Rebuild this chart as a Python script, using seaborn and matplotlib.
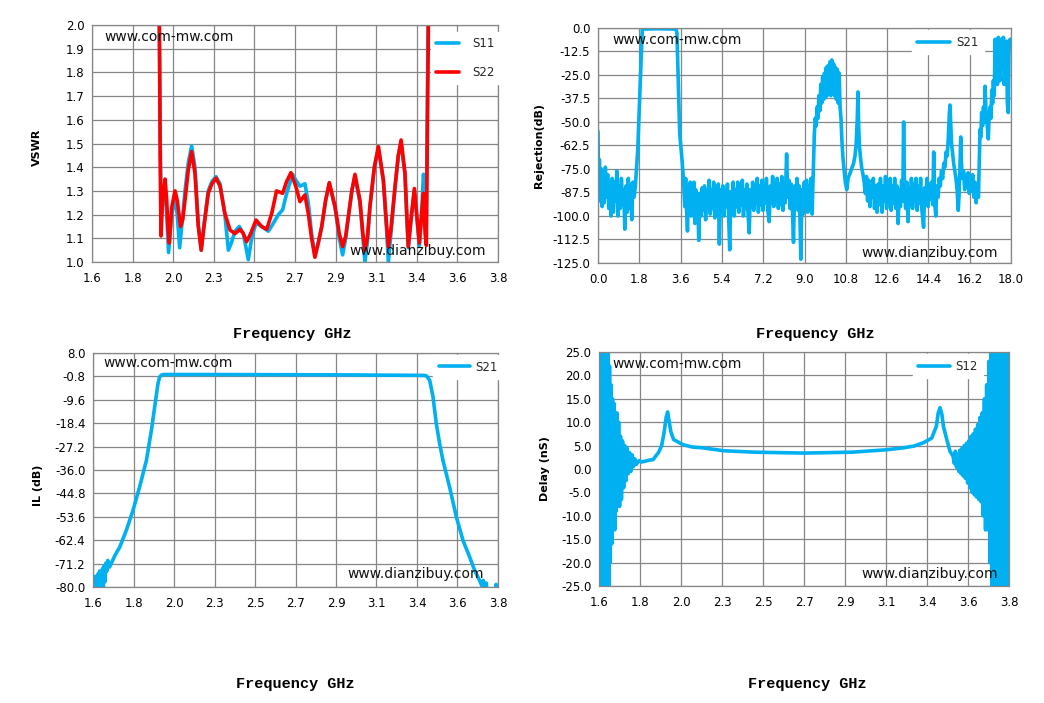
import numpy as np
import seaborn as sns
import matplotlib.pyplot as plt

# ---------------- VSWR (top left) ----------------
s11_freq = [1.962, 1.966, 1.970, 1.976, 1.987, 1.996, 2.005, 2.015, 2.032, 2.050,
            2.062, 2.075, 2.090, 2.104, 2.122, 2.140, 2.158, 2.176, 2.192, 2.207,
            2.230, 2.250, 2.272, 2.294, 2.320, 2.339, 2.355, 2.375, 2.398, 2.420,
            2.447, 2.465, 2.489, 2.519, 2.556, 2.580, 2.610, 2.633, 2.655, 2.687,
            2.705, 2.727, 2.754, 2.772, 2.790, 2.808, 2.826, 2.845, 2.866, 2.886,
            2.917, 2.940, 2.958, 2.975, 2.989, 3.008, 3.025, 3.052, 3.068, 3.079,
            3.092, 3.106, 3.130, 3.152, 3.179, 3.195, 3.206, 3.220, 3.242, 3.260,
            3.275, 3.296, 3.306, 3.314, 3.332, 3.347, 3.359, 3.374, 3.386, 3.396,
            3.405, 3.412, 3.420, 3.426]
s11_vswr = [2.30, 1.90, 1.50, 1.20, 1.28, 1.30, 1.20, 1.04, 1.20, 1.27,
            1.20, 1.06, 1.18, 1.30, 1.42, 1.49, 1.40, 1.16, 1.05, 1.16,
            1.30, 1.34, 1.36, 1.33, 1.20, 1.05, 1.08, 1.13, 1.15, 1.12,
            1.01, 1.10, 1.165, 1.15, 1.13, 1.16, 1.20, 1.22, 1.29, 1.37,
            1.345, 1.32, 1.33, 1.25, 1.12, 1.03, 1.08, 1.15, 1.26, 1.33,
            1.23, 1.10, 1.03, 1.10, 1.19, 1.30, 1.36, 1.25, 1.10, 1.00,
            1.08, 1.23, 1.40, 1.48, 1.34, 1.15, 1.00, 1.12, 1.31, 1.45,
            1.50, 1.37, 1.18, 1.06, 1.20, 1.30, 1.20, 1.07, 1.20, 1.37,
            1.30, 1.20, 1.93, 2.40]

s22_freq = [1.962, 1.966, 1.970, 1.974, 1.980, 1.987, 1.996, 2.005, 2.012, 2.019,
            2.032, 2.050, 2.062, 2.080, 2.092, 2.104, 2.122, 2.140, 2.158, 2.176,
            2.192, 2.207, 2.230, 2.250, 2.272, 2.294, 2.320, 2.348, 2.375, 2.402,
            2.420, 2.438, 2.460, 2.489, 2.519, 2.547, 2.574, 2.600, 2.633, 2.655,
            2.678, 2.705, 2.727, 2.754, 2.772, 2.790, 2.808, 2.826, 2.845, 2.866,
            2.886, 2.917, 2.940, 2.958, 2.975, 2.989, 3.008, 3.025, 3.052, 3.068,
            3.079, 3.092, 3.106, 3.130, 3.152, 3.179, 3.195, 3.206, 3.220, 3.242,
            3.260, 3.275, 3.296, 3.306, 3.314, 3.332, 3.347, 3.359, 3.374, 3.386,
            3.396, 3.405, 3.412, 3.417, 3.423, 3.430]
s22_vswr = [2.30, 1.90, 1.40, 1.11, 1.22, 1.30, 1.35, 1.26, 1.14, 1.08,
            1.23, 1.30, 1.26, 1.15, 1.18, 1.26, 1.39, 1.466, 1.375, 1.15,
            1.05, 1.15, 1.29, 1.33, 1.354, 1.32, 1.205, 1.135, 1.12, 1.138,
            1.12, 1.086, 1.12, 1.177, 1.15, 1.138, 1.205, 1.30, 1.29, 1.34,
            1.377, 1.318, 1.255, 1.283, 1.205, 1.10, 1.02, 1.08, 1.15, 1.26,
            1.335, 1.234, 1.12, 1.065, 1.11, 1.19, 1.30, 1.37, 1.26, 1.12,
            1.05, 1.10, 1.234, 1.40, 1.487, 1.346, 1.17, 1.065, 1.14, 1.318,
            1.45, 1.515, 1.375, 1.20, 1.065, 1.205, 1.31, 1.205, 1.08, 1.205,
            1.29, 1.12, 1.07, 1.54, 2.00, 2.60]

# ---------------- Rejection (top right) ----------------
rej_freq = [0.00, 0.03, 0.06, 0.10, 0.14, 0.18, 0.22, 0.27, 0.32, 0.37,
            0.42, 0.47, 0.52, 0.57, 0.62, 0.67, 0.72, 0.77, 0.82, 0.87,
            0.92, 0.97, 1.02, 1.07, 1.12, 1.17, 1.22, 1.27, 1.32, 1.37,
            1.42, 1.47, 1.52, 1.57, 1.63, 1.73, 1.80, 1.87, 1.93, 2.60,
            3.40, 3.44, 3.50, 3.56, 3.66, 3.73,
            3.78, 3.82, 3.86, 3.90, 3.94, 3.98, 4.02, 4.06, 4.10, 4.14,
            4.18, 4.22, 4.26, 4.30, 4.34, 4.39, 4.44, 4.49, 4.54, 4.59,
            4.64, 4.69, 4.74, 4.79, 4.84, 4.89, 4.94, 4.99, 5.04, 5.09,
            5.14, 5.19, 5.24, 5.29, 5.34, 5.39, 5.44, 5.49, 5.54, 5.59,
            5.64, 5.69, 5.74, 5.79, 5.84, 5.89, 5.94, 5.99, 6.04, 6.09,
            6.14, 6.19, 6.24, 6.29, 6.34, 6.39, 6.44, 6.49, 6.54, 6.59,
            6.64, 6.69, 6.74, 6.79, 6.84, 6.89, 6.94, 6.99, 7.04, 7.09,
            7.14, 7.19, 7.24, 7.29, 7.34, 7.39, 7.46, 7.51, 7.56, 7.61,
            7.66, 7.71, 7.76, 7.81, 7.86, 7.91, 7.96, 8.01, 8.06, 8.11,
            8.16, 8.22, 8.27, 8.32, 8.37, 8.42, 8.47, 8.52, 8.57, 8.62,
            8.67, 8.72, 8.77, 8.84, 8.89, 8.94, 8.99, 9.04, 9.09, 9.14,
            9.19, 9.24, 9.29, 9.33, 9.37,
            9.40, 9.43, 9.47, 9.51, 9.55, 9.59, 9.63, 9.67, 9.71, 9.75,
            9.79, 9.83, 9.87, 9.91, 9.95, 9.99, 10.03, 10.07, 10.11, 10.15,
            10.19, 10.23, 10.27, 10.31, 10.35, 10.39, 10.43, 10.47, 10.51, 10.55,
            10.59, 10.63, 10.67, 10.72, 10.78, 10.84, 10.90, 10.96, 11.02, 11.08,
            11.14, 11.20, 11.25, 11.30, 11.33, 11.36, 11.40, 11.45, 11.50, 11.55,
            11.60, 11.65, 11.70, 11.75, 11.80, 11.85, 11.90, 11.95, 12.00, 12.05,
            12.10, 12.16, 12.21, 12.26, 12.31, 12.38, 12.43, 12.48, 12.53, 12.58,
            12.63, 12.68, 12.73, 12.78, 12.83, 12.88, 12.93, 12.98, 13.03, 13.08,
            13.13, 13.18, 13.23, 13.28, 13.32, 13.36, 13.41, 13.46, 13.51, 13.56,
            13.61, 13.66, 13.71, 13.76, 13.81, 13.86, 13.91, 13.96, 14.01, 14.06,
            14.11, 14.19, 14.24, 14.29, 14.34, 14.39, 14.44, 14.49, 14.54, 14.59,
            14.63, 14.67, 14.72, 14.77, 14.82, 14.87,
            14.92, 14.97, 15.02, 15.07, 15.12, 15.17, 15.22, 15.27, 15.31, 15.34,
            15.37, 15.41, 15.45, 15.50, 15.55, 15.60, 15.65, 15.70, 15.74, 15.78,
            15.81, 15.84, 15.88, 15.93, 15.98, 16.03, 16.08, 16.13, 16.18, 16.23,
            16.28, 16.33, 16.38, 16.43, 16.48, 16.53, 16.58, 16.62, 16.65, 16.69,
            16.72, 16.76, 16.80, 16.84, 16.87, 16.91, 16.94, 16.98, 17.01, 17.05,
            17.09, 17.13, 17.16, 17.20, 17.23, 17.27, 17.31, 17.34, 17.38, 17.41,
            17.45, 17.48, 17.52, 17.56, 17.60, 17.63, 17.67, 17.70, 17.74, 17.77,
            17.81, 17.84, 17.88, 17.91, 17.96, 18.00]
rej_db = [-55, -88, -70, -92, -75, -95, -78, -93, -74, -90,
          -78, -96, -82, -100, -80, -98, -82, -92, -76, -100,
          -84, -96, -80, -94, -86, -107, -84, -98, -80, -96,
          -83, -102, -82, -90, -84, -65, -43, -20, -0.6, -0.4,
          -0.6, -2.7, -29, -56, -70, -81,
          -95, -80, -96, -108, -84, -98, -82, -100, -84, -96,
          -82, -104, -86, -98, -88, -113, -88, -100, -85, -97,
          -84, -102, -86, -95, -81, -99, -86, -96, -82, -101,
          -85, -97, -83, -115, -86, -98, -84, -100, -86, -95,
          -83, -99, -118, -87, -97, -82, -100, -86, -95, -82,
          -98, -85, -94, -81, -100, -86, -96, -83, -99, -109,
          -86, -95, -82, -97, -84, -93, -80, -98, -84, -94,
          -81, -97, -83, -93, -80, -96, -103, -84, -93, -79,
          -95, -82, -92, -80, -96, -83, -94, -79, -97, -84,
          -93, -67, -90, -81, -96, -83, -95, -114, -84, -96,
          -80, -97, -84, -123, -86, -99, -82, -95, -81, -98,
          -84, -93, -80, -99, -82,
          -70, -56, -48, -52, -42, -48, -36, -44, -30, -40,
          -26, -38, -24, -37, -21, -36, -20, -35, -18, -36,
          -17, -35, -19, -36, -21, -38, -22, -40, -24, -42,
          -48, -60, -68, -75, -82, -86, -80, -78, -76, -74,
          -72, -68, -62, -48, -34, -52, -64, -70, -75, -78,
          -82, -88, -79, -92, -81, -95, -82, -90, -80, -96,
          -84, -98, -83, -94, -80, -98, -84, -92, -79, -96,
          -83, -91, -80, -97, -84, -93, -80, -96, -84, -104,
          -86, -95, -81, -92, -50, -88, -96, -82, -103, -85,
          -94, -80, -96, -83, -92, -80, -97, -84, -93, -80,
          -96, -106, -85, -93, -80, -95, -83, -91, -82, -94,
          -66, -92, -100, -84, -90, -80,
          -84, -76, -80, -72, -74, -66, -68, -58, -46, -41,
          -50, -62, -66, -72, -76, -80, -86, -97, -88, -70,
          -58, -72, -80, -76, -86, -78, -84, -77, -88, -80,
          -86, -78, -90, -82, -93, -84, -90, -70, -54, -58,
          -45, -52, -42, -50, -31, -45, -47, -55, -59, -46,
          -42, -48, -33, -40, -28, -36, -6, -20, -10, -30,
          -5, -14, -28, -8, -6, -16, -5, -30, -22, -10,
          -7, -40, -45, -12, -6, -8]

# ---------------- Insertion loss (bottom left) ----------------
il_freq = [1.600, 1.604, 1.608, 1.612, 1.616, 1.620, 1.624, 1.628, 1.632, 1.636,
           1.640, 1.644, 1.648, 1.652, 1.656, 1.660, 1.665, 1.670, 1.675, 1.680,
           1.690, 1.720, 1.745, 1.781, 1.817, 1.853, 1.890, 1.917, 1.935, 1.953,
           1.962, 1.972, 1.985, 2.200, 2.500, 2.800, 3.000, 3.200, 3.350, 3.400,
           3.411, 3.429, 3.447, 3.465, 3.483, 3.501, 3.537, 3.574, 3.610, 3.646,
           3.673, 3.700, 3.712, 3.720, 3.728, 3.736, 3.744, 3.760, 3.787, 3.790,
           3.793]
il_db = [-82, -77, -84, -76, -83, -78, -85, -75, -82, -74,
         -81, -76, -83, -73, -80, -72, -78, -71, -74, -70,
         -72.5, -68, -65, -58.7, -51.2, -42.4, -32.4, -21.1, -12.3, -3.5,
         -1.0, -0.3, -0.1, -0.1, -0.15, -0.2, -0.25, -0.35, -0.4, -0.45,
         -0.6, -2.3, -8.5, -18.6, -26.1, -32.4, -42.4, -53.7, -62.5, -68.7,
         -73.7, -77.5, -79.5, -77.5, -82, -78.5, -84, -90, -90, -79,
         -90]

# ---------------- Group delay (bottom right) ----------------
dly_freq = [1.600, 1.604, 1.608, 1.612, 1.616, 1.620, 1.624, 1.628, 1.632, 1.636,
            1.640, 1.644, 1.648, 1.652, 1.656, 1.660, 1.664, 1.668, 1.672, 1.676,
            1.680, 1.684, 1.688, 1.692, 1.696, 1.700, 1.705, 1.710, 1.715, 1.720,
            1.726, 1.732, 1.738, 1.744, 1.750, 1.757, 1.764, 1.771, 1.778, 1.785,
            1.792, 1.800, 1.815, 1.830, 1.850, 1.870, 1.890, 1.905, 1.920, 1.936,
            1.950, 1.960, 1.968, 1.975, 1.985, 2.000, 2.050, 2.100, 2.160, 2.270,
            2.430, 2.700, 2.960, 3.140, 3.230, 3.290, 3.340, 3.385, 3.410, 3.420,
            3.430, 3.440, 3.448, 3.466, 3.483, 3.500,
            3.506, 3.512, 3.518, 3.524, 3.530, 3.536, 3.542, 3.548, 3.554, 3.560,
            3.566, 3.572, 3.578, 3.584, 3.590, 3.596, 3.602, 3.608, 3.614, 3.620,
            3.626, 3.632, 3.638, 3.644, 3.650, 3.656, 3.662, 3.668, 3.674, 3.680,
            3.686, 3.692, 3.698, 3.703, 3.708, 3.713, 3.718, 3.723, 3.728, 3.733,
            3.738, 3.743, 3.748, 3.753, 3.758, 3.763, 3.768, 3.773, 3.778, 3.783,
            3.788, 3.793, 3.798]
dly_ns = [28, -28, 30, -30, 28, -29, 30, -27, 29, -30,
          27, -28, 26, -26, 22, -20, 18, -16, 15, -12,
          14, -13, 11, -9, 12, -6, 10, -8, 7, -6.5,
          6, -4, 5, -2.5, 4.5, -1, 3.5, -0.5, 3, 0.5,
          2.2, 1.0, 1.8, 1.5, 1.7, 1.9, 2.0, 2.8, 3.6, 5.0,
          8.0, 11.0, 12.2, 10.5, 8.0, 6.3, 5.2, 4.7, 4.5, 3.9,
          3.6, 3.4, 3.6, 4.1, 4.5, 4.9, 5.6, 6.6, 9.1, 12.0,
          13.1, 11.6, 9.1, 6.3, 3.8, 2.7,
          1.2, 3.8, 0.4, 3.2, -0.5, 4.0, -1.0, 4.5, -1.5, 5.0,
          -2.0, 5.5, -3.0, 6.0, -4.0, 7.0, -5.0, 7.5, -5.5, 8.5,
          -6.0, 9.5, -6.5, 11, -7, 12, -10, 15, -13, 18,
          -13, 23, -20, 28, -30, 30, -30, 30, -30, 30,
          -30, 30, -30, 30, -30, 30, -30, 30, -30, 30,
          -30, 30, -30]

# axis ticks (Excel style: 10 equal divisions, labels rounded to one decimal)
band_ticks = np.linspace(1.6, 3.8, 11)
rej_xticks = np.linspace(0, 18, 11)
vswr_yticks = np.linspace(1.0, 2.0, 11)
rej_yticks = np.linspace(-125, 0, 11)
il_yticks = np.linspace(-80, 8, 11)
dly_yticks = np.linspace(-25, 25, 11)

BLUE = '#00B0F0'
RED = '#FF0000'
GRID = '#868686'
LW = 2.6

sns.set_theme(style="white")
plt.rcParams['font.family'] = ['DejaVu Sans']

fig = plt.figure(figsize=(10.44, 7.03), dpi=100)
ax_vswr = fig.add_axes([0.0881, 0.6273, 0.3889, 0.3371])
ax_rej = fig.add_axes([0.5728, 0.6259, 0.3956, 0.3343])
ax_il = fig.add_axes([0.0891, 0.1650, 0.3879, 0.3329])
ax_dly = fig.add_axes([0.5738, 0.1664, 0.3927, 0.3329])


def style_axes(ax, xticks, yticks, ylabel, ylab_xy, xlab_xy):
    ax.set_xlim(xticks[0], xticks[-1])
    ax.set_ylim(yticks[0], yticks[-1])
    ax.set_xticks(xticks)
    ax.set_xticklabels([f'{t:.1f}' for t in xticks])
    ax.set_yticks(yticks)
    ax.set_yticklabels([f'{t:.1f}' for t in yticks])
    ax.grid(True, color=GRID, linewidth=0.9)
    ax.set_axisbelow(True)
    for sp in ax.spines.values():
        sp.set_visible(True)
        sp.set_color(GRID)
        sp.set_linewidth(0.9)
    ax.tick_params(direction='out', length=3.5, width=0.9, color=GRID,
                   labelsize=8.5, labelcolor='black', pad=2)
    ax.tick_params(axis='x', pad=4)
    ax.set_ylabel(ylabel, fontsize=8, fontweight='bold', color='black')
    ax.yaxis.set_label_coords(*ylab_xy)
    ax.set_xlabel('Frequency GHz', family='Liberation Mono', fontweight='bold',
                  fontsize=11, color='black')
    ax.xaxis.set_label_coords(*xlab_xy)


def watermarks(ax, top_xy, bottom_xy):
    ax.text(*top_xy, 'www.com-mw.com', transform=ax.transAxes, fontsize=10,
            color='#111111', ha='left', va='center')
    ax.text(*bottom_xy, 'www.dianzibuy.com', transform=ax.transAxes, fontsize=10,
            color='#111111', ha='left', va='center')


def legend(ax, anchor, handlelength, textpad, spacing=1.0):
    ax.legend(loc='upper left', bbox_to_anchor=anchor, fontsize=8.5, frameon=True,
              facecolor='white', edgecolor='white', framealpha=1, fancybox=False,
              borderaxespad=0, borderpad=0.45, handlelength=handlelength,
              handletextpad=textpad, labelspacing=spacing)


# VSWR
sns.lineplot(x=s11_freq, y=s11_vswr, ax=ax_vswr, color=BLUE, linewidth=LW,
             label='S11', sort=False, estimator=None)
sns.lineplot(x=s22_freq, y=s22_vswr, ax=ax_vswr, color=RED, linewidth=LW,
             label='S22', sort=False, estimator=None)
style_axes(ax_vswr, band_ticks, vswr_yticks, 'VSWR', (-0.124, 0.483), (0.493, -0.274))
watermarks(ax_vswr, (0.03, 0.949), (0.635, 0.046))
legend(ax_vswr, (0.835, 0.97), 1.95, 1.1, 1.3)

# Rejection
sns.lineplot(x=rej_freq, y=rej_db, ax=ax_rej, color=BLUE, linewidth=LW,
             label='S21', sort=False, estimator=None)
style_axes(ax_rej, rej_xticks, rej_yticks, 'Rejection(dB)', (-0.131, 0.50), (0.525, -0.272))
watermarks(ax_rej, (0.034, 0.949), (0.639, 0.043))
legend(ax_rej, (0.76, 0.99), 2.8, 0.5)

# Insertion loss
sns.lineplot(x=il_freq, y=il_db, ax=ax_il, color=BLUE, linewidth=LW,
             label='S21', sort=False, estimator=None)
style_axes(ax_il, band_ticks, il_yticks, 'IL (dB)', (-0.123, 0.436), (0.50, -0.385))
watermarks(ax_il, (0.025, 0.957), (0.627, 0.056))
legend(ax_il, (0.84, 0.99), 2.7, 0.45)

# Delay
sns.lineplot(x=dly_freq, y=dly_ns, ax=ax_dly, color=BLUE, linewidth=LW,
             label='S12', sort=False, estimator=None)
style_axes(ax_dly, band_ticks, dly_yticks, 'Delay (nS)', (-0.120, 0.50), (0.507, -0.389))
watermarks(ax_dly, (0.032, 0.949), (0.639, 0.051))
legend(ax_dly, (0.766, 0.99), 2.7, 0.45)

fig.savefig('out.png', dpi=100, facecolor='white')
